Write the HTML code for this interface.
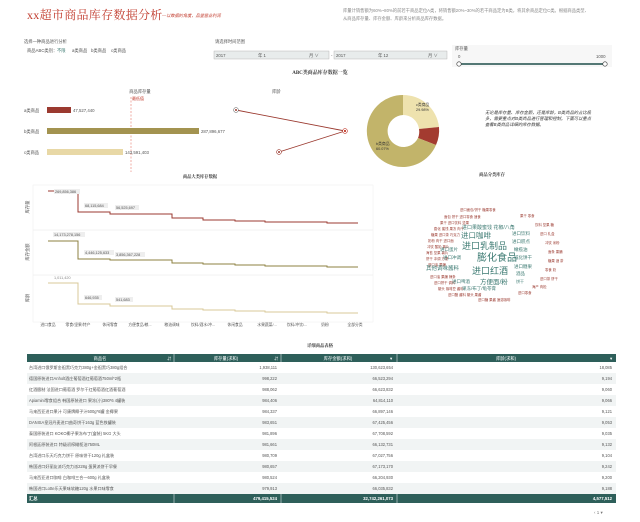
<!DOCTYPE html>
<html><head><meta charset="utf-8"><style>
body{margin:0;background:#fff;width:640px;height:517px;overflow:hidden;font-family:"Liberation Sans","Noto Sans CJK SC",sans-serif}
svg text{font-family:"Liberation Sans","Noto Sans CJK SC",sans-serif}
svg text.serif{font-family:"Liberation Serif","Noto Serif CJK SC",serif}
</style></head><body>
<svg width="640" height="517" viewBox="0 0 640 517" xmlns="http://www.w3.org/2000/svg">
<rect width="640" height="517" fill="#fff"/>
<text class="serif" x="27" y="19" font-size="12" letter-spacing="0.3" fill="#c0392b">xx超市商品库存数据分析</text>
<text x="162" y="17" font-size="4.2" fill="#c0392b" font-style="italic">—以数据的角度，品鉴营业利润</text>
<text x="343" y="12" font-size="4.3" fill="#888">库量计销售额为60%~80%的前若干商品定位A类，将销售额20%~30%的若干商品定为B类，将其余商品定位C类。根据商品类型、</text>
<text x="343" y="20" font-size="4.3" fill="#888">从商品库存量、库存金额、库龄来分析商品库存数据。</text>
<text x="24" y="43" font-size="4.3" fill="#555">选择一种商品进行分析</text>
<text x="27" y="52" font-size="4.3" fill="#555">商品ABC类别：</text>
<text x="57" y="52" font-size="4.3" fill="#3c7a72">不限</text>
<text x="72" y="52" font-size="4.3" fill="#555">a类商品</text><text x="91" y="52" font-size="4.3" fill="#555">b类商品</text><text x="111" y="52" font-size="4.3" fill="#555">c类商品</text>
<text x="215" y="43" font-size="4.3" fill="#555">请选择时间范围</text>
<rect x="214" y="51" width="115" height="8" fill="#e8ecec" stroke="#aaa" stroke-width="0.4"/>
<rect x="334" y="51" width="113" height="8" fill="#e8ecec" stroke="#aaa" stroke-width="0.4"/>
<text x="216" y="57" font-size="4.3" fill="#555">2017</text><text x="258" y="57" font-size="4.3" fill="#555">年 1</text><text x="309" y="57" font-size="4.3" fill="#555">月 ∨</text>
<text x="336" y="57" font-size="4.3" fill="#555">2017</text><text x="378" y="57" font-size="4.3" fill="#555">年 12</text><text x="428" y="57" font-size="4.3" fill="#555">月 ∨</text>
<text x="331" y="57" font-size="4.3" fill="#555">-</text>
<rect x="452" y="45" width="160" height="22" fill="#f7f7f7"/>
<text x="455" y="50" font-size="4.3" fill="#555">库存量</text>
<text x="458" y="58" font-size="4.3" fill="#555">0</text><text x="596" y="58" font-size="4.3" fill="#555">1000</text>
<line x1="459" y1="64" x2="605" y2="64" stroke="#1e4f4a" stroke-width="1.5"/>
<circle cx="459" cy="64" r="2.2" fill="#fff" stroke="#333" stroke-width="0.6"/>
<circle cx="605" cy="64" r="2.2" fill="#fff" stroke="#333" stroke-width="0.6"/>
<text class="serif" x="320" y="74" font-size="5" fill="#333" text-anchor="middle" font-weight="bold">ABC类商品库存数据一览</text>
<text x="140" y="93" font-size="4.3" fill="#555" text-anchor="middle">商品库存量</text>
<text x="272" y="93" font-size="4.3" fill="#555">库龄</text>
<text x="132" y="100" font-size="4" fill="#c0392b">最低值</text>
<line x1="131" y1="97" x2="131" y2="172" stroke="#e05a4a" stroke-width="0.5" stroke-dasharray="2,1.5"/>
<text x="24" y="112" font-size="4.3" fill="#555">a类商品</text>
<text x="24" y="133" font-size="4.3" fill="#555">b类商品</text>
<text x="24" y="154" font-size="4.3" fill="#555">c类商品</text>
<rect x="47" y="107" width="24" height="6" fill="#9b3a30"/>
<rect x="47" y="128" width="152" height="6" fill="#a39350"/>
<rect x="47" y="149" width="76" height="6" fill="#e8d8a6"/>
<text x="73" y="112" font-size="4.3" fill="#555">47,527,440</text>
<text x="201" y="133" font-size="4.3" fill="#555">287,896,677</text>
<text x="125" y="154" font-size="4.3" fill="#555">143,591,403</text>
<polyline points="236,110 345,131 279,152" fill="none" stroke="#9b3a30" stroke-width="0.9"/>
<circle cx="236" cy="110" r="2.4" fill="#fff" stroke="#777" stroke-width="0.6"/><circle cx="236" cy="110" r="1" fill="#9b3a30"/>
<circle cx="345" cy="131" r="2.4" fill="#fff" stroke="#c0392b" stroke-width="0.6"/><circle cx="345" cy="131" r="1.1" fill="#c0392b"/>
<circle cx="279" cy="152" r="2.4" fill="#fff" stroke="#9b3a30" stroke-width="0.6"/><circle cx="279" cy="152" r="1" fill="#9b3a30"/>
<path d="M403,95 A36,36 0 0 1 439,127 L419,129 A16,16 0 0 0 403,115 Z" fill="#eee2ae"/>
<path d="M439,127 A36,36 0 0 1 436,145 L418,138 A16,16 0 0 0 419,129 Z" fill="#a33b30"/>
<path d="M436,145 A36,36 0 1 1 403,95 L403,115 A16,16 0 1 0 418,138 Z" fill="#c2b46a"/>
<text x="416" y="106" font-size="3.8" fill="#333">c类商品</text><text x="416" y="111" font-size="3.8" fill="#333">29.98%</text>
<text x="376" y="145" font-size="3.8" fill="#333">b类商品</text><text x="376" y="150" font-size="3.8" fill="#333">60.07%</text>
<text x="485" y="114" font-size="4.3" fill="#333" font-style="italic">无论是库存量、库存金额，还是库龄，B类商品的占比极</text>
<text x="485" y="120" font-size="4.3" fill="#333" font-style="italic">多，需要重点对B类商品进行管理和控制。下面可以重点</text>
<text x="485" y="126" font-size="4.3" fill="#333" font-style="italic">查看B类商品详细的库存数据。</text>
<text class="serif" x="200" y="178" font-size="4.3" fill="#333" text-anchor="middle" font-weight="bold">商品大类库存数据</text>
<text class="serif" x="492" y="176" font-size="4.3" fill="#333" text-anchor="middle" font-weight="bold">商品分类库存</text>
<rect x="33" y="185" width="340" height="137" fill="#fff" stroke="#eee" stroke-width="0.5"/>
<line x1="33" y1="230" x2="373" y2="230" stroke="#e6e6e6" stroke-width="0.5"/>
<line x1="33" y1="275" x2="373" y2="275" stroke="#e6e6e6" stroke-width="0.5"/>
<text x="29" y="207" font-size="4.3" fill="#555" transform="rotate(-90 29 207)" text-anchor="middle">库存量</text>
<text x="29" y="252" font-size="4.3" fill="#555" transform="rotate(-90 29 252)" text-anchor="middle">库存金额</text>
<text x="29" y="298" font-size="4.3" fill="#555" transform="rotate(-90 29 298)" text-anchor="middle">库龄</text>
<polyline points="48,191 78,191 78,212 110,212 110,214 172,214 172,218 203,218 203,220 235,220 235,221 265,221 265,222 327,222 327,223 358,223" fill="none" stroke="#9b3a30" stroke-width="1"/>
<polyline points="48,241 78,241 78,259 110,259 110,260 172,260 172,263 203,263 203,264 235,264 235,265 265,265 265,266 327,266 327,267 358,267" fill="none" stroke="#8c8040" stroke-width="1"/>
<polyline points="48,283 78,283 78,304 110,304 110,306 172,306 172,309 203,309 203,310 235,310 235,311 265,311 265,312 327,312 327,313 358,313" fill="none" stroke="#d8c898" stroke-width="1"/>
<rect x="54" y="189" width="26" height="5" fill="#eee"/><text x="55" y="193" font-size="3.8" fill="#555">269,856,386</text>
<rect x="84" y="203" width="24" height="5" fill="#eee"/><text x="85" y="207" font-size="3.8" fill="#555">68,115,684</text>
<rect x="115" y="205" width="24" height="5" fill="#eee"/><text x="116" y="209" font-size="3.8" fill="#555">56,525,697</text>
<rect x="53" y="232" width="32" height="5" fill="#eee"/><text x="54" y="236" font-size="3.8" fill="#555">14,173,278,156</text>
<rect x="84" y="250" width="30" height="5" fill="#eee"/><text x="85" y="254" font-size="3.8" fill="#555">4,446,125,633</text>
<rect x="115" y="252" width="30" height="5" fill="#eee"/><text x="116" y="256" font-size="3.8" fill="#555">3,856,367,228</text>
<text x="54" y="279" font-size="3.8" fill="#888">1,011,420</text>
<rect x="84" y="295" width="18" height="5" fill="#eee"/><text x="85" y="299" font-size="3.8" fill="#555">646,935</text>
<rect x="115" y="297" width="18" height="5" fill="#eee"/><text x="116" y="301" font-size="3.8" fill="#555">541,683</text>
<g font-size="3.8" fill="#555" text-anchor="middle">
<text x="48" y="326">进口食品</text><text x="78" y="326">零食/坚果/特产</text><text x="110" y="326">休闲零食</text><text x="140" y="326">方便食品/粮...</text><text x="172" y="326">粮油调味</text><text x="203" y="326">饮料/酒水/冲...</text><text x="235" y="326">休闲食品</text><text x="267" y="326">水果蔬菜/...</text><text x="297" y="326">饮料/冲饮/...</text><text x="325" y="326">奶粉</text><text x="355" y="326">全部分类</text>
</g>
<g fill="#9b3a30" font-size="3.4">
<text x="460" y="211">进口面包/饼干 糖果零食</text><text x="444" y="218">面包 饼干 进口零食 速食</text><text x="440" y="224">果干 进口饮料 坚果</text><text x="434" y="230">膨化 蜜饯 果冻 肉干</text><text x="431" y="236">糖果 进口茶 巧克力</text><text x="428" y="242">奶粉 肉干 进口面</text><text x="427" y="248">冲饮 酸奶 薯片</text><text x="426" y="254">海苔 坚果 薯片</text><text x="426" y="260">饼干 冲调 方便</text><text x="428" y="266">进口油 果脯</text><text x="430" y="278">进口油 果脯 辣条</text><text x="434" y="284">进口饼干 调料</text><text x="438" y="290">罐头 咖啡豆 酱料</text><text x="448" y="296">进口醋 酱料 罐头 果酱</text><text x="478" y="301">进口糖 果酱 速溶咖啡</text>
<text x="520" y="217">果干 零食</text><text x="535" y="226">饮料 坚果 糖</text><text x="540" y="235">进口 礼盒</text><text x="545" y="244">冲饮 米粉</text><text x="548" y="253">面条 果脯</text><text x="548" y="262">糖果 酒 茶</text><text x="545" y="271">零食 奶</text><text x="540" y="280">进口茶 饼干</text><text x="532" y="288">海产 肉松</text><text x="518" y="294">进口零食</text>
</g>
<g fill="#3c7a72">
<text x="462" y="229" font-size="5">进口果酸蜜饯 花椒/八角</text>
<text x="461" y="238" font-size="7.5">进口咖啡</text><text x="512" y="235" font-size="4.5">进口饮料</text>
<text x="462" y="249" font-size="9">进口乳制品</text><text x="512" y="243" font-size="4.5">进口糕点</text>
<text x="440" y="251" font-size="4.5">进口蛋片</text>
<text x="443" y="259" font-size="4.5">进口冲调</text>
<text x="477" y="261" font-size="10">膨化食品</text><text x="514" y="251" font-size="4.5">橄榄油</text><text x="514" y="259" font-size="4.5">威化饼干</text>
<text x="426" y="270" font-size="5.5">其他调味酱料</text>
<text x="472" y="274" font-size="9">进口红酒</text><text x="514" y="268" font-size="4.5">进口糖果</text><text x="516" y="275" font-size="4.5">酒品</text>
<text x="452" y="283" font-size="4.5">进口啤酒</text><text x="480" y="284" font-size="6.5">方便面/粉</text><text x="516" y="283" font-size="4">饼干</text>
<text x="462" y="290" font-size="4.5">果冻/布丁/龟苓膏</text>
</g>
<text class="serif" x="320" y="347" font-size="4.3" fill="#333" text-anchor="middle" font-weight="bold">详细商品表格</text>
<rect x="27" y="354" width="589" height="8" fill="#2e5f5a"/>
<g fill="#fff" font-size="4.3"><text x="100" y="360" text-anchor="middle">商品名</text><text x="226" y="360" text-anchor="middle">库存量(求和)</text><text x="338" y="360" text-anchor="middle">库存金额(求和)</text><text x="506" y="360" text-anchor="middle">库龄(求和)</text>
<text x="167" y="360">⇵</text><text x="274" y="360">⇵</text><text x="390" y="360">▾</text><text x="610" y="360">▾</text></g>
<g stroke="#fff" stroke-width="0.5"><line x1="174" y1="354" x2="174" y2="362"/><line x1="281" y1="354" x2="281" y2="362"/><line x1="397" y1="354" x2="397" y2="362"/></g>
<g font-size="4.1" fill="#555">
<rect x="27" y="373" width="589" height="11" fill="#f1f4f4"/><rect x="27" y="395" width="589" height="11" fill="#f1f4f4"/><rect x="27" y="417" width="589" height="11" fill="#f1f4f4"/><rect x="27" y="439" width="589" height="11" fill="#f1f4f4"/><rect x="27" y="461" width="589" height="11" fill="#f1f4f4"/><rect x="27" y="483" width="589" height="11" fill="#f1f4f4"/>
<text x="29" y="369">台湾进口俄罗斯金祖黑巧克力380g+金祖黑巧380g组合</text><text x="277" y="369" text-anchor="end">1,938,111</text><text x="393" y="369" text-anchor="end">130,623,654</text><text x="612" y="369" text-anchor="end">18,085</text>
<text x="29" y="380">德国原装进口Anholt酒庄葡萄酒红葡萄酒750ml*2瓶</text><text x="277" y="380" text-anchor="end">998,222</text><text x="393" y="380" text-anchor="end">66,523,294</text><text x="612" y="380" text-anchor="end">9,194</text>
<text x="29" y="391">红酒酿制 法国进口葡萄酒 罗尔干红葡萄酒红酒葡萄酒</text><text x="277" y="391" text-anchor="end">988,062</text><text x="393" y="391" text-anchor="end">66,623,832</text><text x="612" y="391" text-anchor="end">9,060</text>
<text x="29" y="402">Apiamini零食组合 韩国原装进口 果冻(小)380*6 4罐装</text><text x="277" y="402" text-anchor="end">984,406</text><text x="393" y="402" text-anchor="end">64,814,110</text><text x="612" y="402" text-anchor="end">9,066</text>
<text x="29" y="413">马来西亚进口果汁 可康牌椰子汁500g*6罐 金椰果</text><text x="277" y="413" text-anchor="end">984,337</text><text x="393" y="413" text-anchor="end">66,897,146</text><text x="612" y="413" text-anchor="end">9,121</text>
<text x="29" y="424">DANISA皇冠丹麦进口曲奇饼干163g 蓝色铁罐装</text><text x="277" y="424" text-anchor="end">983,651</text><text x="393" y="424" text-anchor="end">67,425,456</text><text x="612" y="424" text-anchor="end">9,053</text>
<text x="29" y="435">泰国原装进口 KOKO椰子果冻布丁(盒装) 5KG 大头</text><text x="277" y="435" text-anchor="end">981,896</text><text x="393" y="435" text-anchor="end">67,708,592</text><text x="612" y="435" text-anchor="end">9,035</text>
<text x="29" y="446">阿根廷原装进口 特级初榨橄榄油750ML</text><text x="277" y="446" text-anchor="end">981,661</text><text x="393" y="446" text-anchor="end">66,132,731</text><text x="612" y="446" text-anchor="end">9,132</text>
<text x="29" y="457">台湾进口乐天巧克力饼干 原味饼干120g 礼盒装</text><text x="277" y="457" text-anchor="end">980,709</text><text x="393" y="457" text-anchor="end">67,027,756</text><text x="612" y="457" text-anchor="end">9,104</text>
<text x="29" y="468">韩国进口好丽友派巧克力派228g 蛋黄派饼干早餐</text><text x="277" y="468" text-anchor="end">980,657</text><text x="393" y="468" text-anchor="end">67,173,170</text><text x="612" y="468" text-anchor="end">9,242</text>
<text x="29" y="479">马来西亚进口咖啡 白咖啡三合一600g 礼盒装</text><text x="277" y="479" text-anchor="end">980,524</text><text x="393" y="479" text-anchor="end">66,204,930</text><text x="612" y="479" text-anchor="end">9,200</text>
<text x="29" y="490">韩国进口Lotte乐天果味软糖120g 水果口味零食</text><text x="277" y="490" text-anchor="end">979,913</text><text x="393" y="490" text-anchor="end">66,035,832</text><text x="612" y="490" text-anchor="end">9,188</text>
</g>
<rect x="27" y="494" width="589" height="9" fill="#2e5f5a"/>
<g stroke="#fff" stroke-width="0.5"><line x1="174" y1="494" x2="174" y2="503"/><line x1="281" y1="494" x2="281" y2="503"/><line x1="397" y1="494" x2="397" y2="503"/></g>
<g fill="#fff" font-size="4.3" font-weight="bold"><text x="29" y="500">汇总</text><text x="277" y="500" text-anchor="end">479,415,524</text><text x="393" y="500" text-anchor="end">32,742,261,073</text><text x="612" y="500" text-anchor="end">4,577,512</text></g>
<text x="594" y="514" font-size="4.5" fill="#777">‹  1  ▾</text>
</svg>
</body></html>
